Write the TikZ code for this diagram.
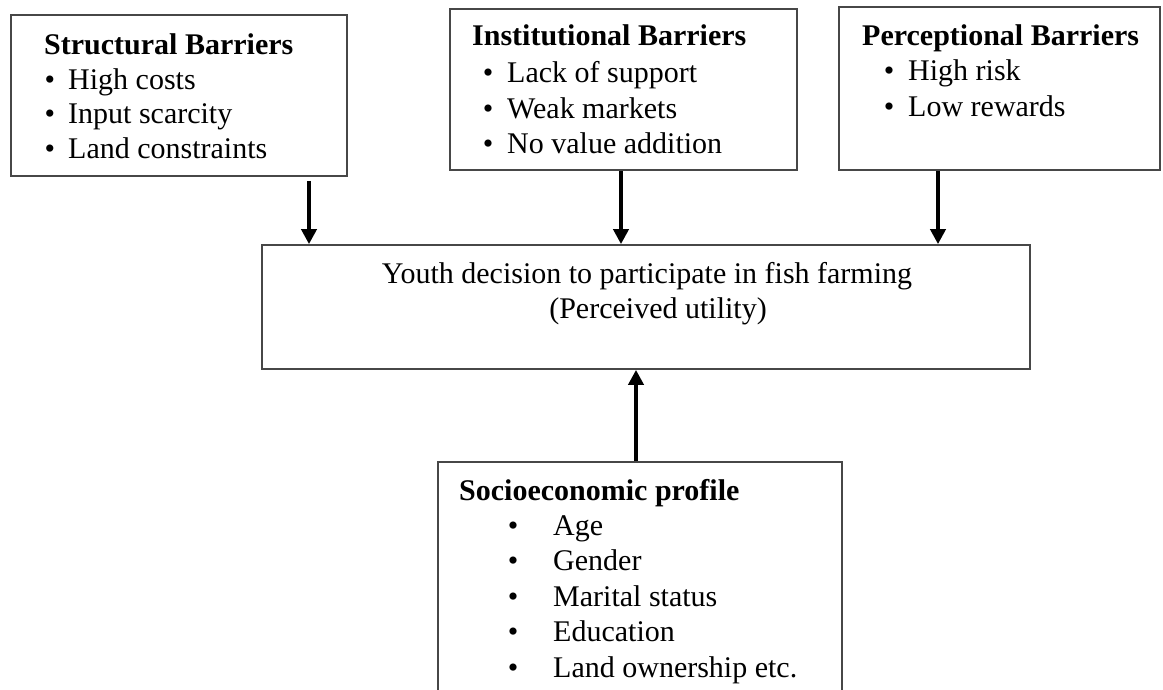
\documentclass[tikz,border=0pt]{standalone}
\usepackage{fontspec}
\setmainfont{Liberation Serif}
\usetikzlibrary{arrows.meta}
\begin{document}
\begin{tikzpicture}[x=1pt,y=-1pt,
  box/.style={draw=black!72,line width=1.7pt,rectangle,inner sep=0pt},
  txt/.style={inner sep=0pt,anchor=base west,font=\fontsize{30}{35}\selectfont},
  head/.style={txt,font=\fontsize{30}{35}\selectfont\bfseries},
  bul/.style={inner sep=0pt,anchor=base,font=\fontsize{30}{35}\selectfont},
  mid/.style={inner sep=0pt,anchor=base,font=\fontsize{30}{35}\selectfont},
  arr/.style={line width=4.2pt,-{Triangle[width=15pt,length=15pt]}}]
\useasboundingbox (0,0) rectangle (1163,689);
\clip (0,0) rectangle (1163,689);
\fill[white] (0,0) rectangle (1163,689);
% boxes
\node[box,minimum width=336pt,minimum height=161pt] (sb) at (179,95.5) {};
\node[box,minimum width=347pt,minimum height=161pt] (ib) at (623.5,89.5) {};
\node[box,minimum width=321pt,minimum height=163pt] (pb) at (999.5,88.5) {};
\node[box,minimum width=768pt,minimum height=124pt] (yd) at (646,307) {};
\node[box,minimum width=404pt,minimum height=238pt] (se) at (640,581) {};
% structural
\node[head] (sbh) at (44,54) {Structural Barriers};
\node[bul] (sb1b) at (50,89) {•};
\node[txt] (sb1) at (68,89) {High costs};
\node[bul] (sb2b) at (50,123) {•};
\node[txt] (sb2) at (68,123) {Input scarcity};
\node[bul] (sb3b) at (50,158) {•};
\node[txt] (sb3) at (68,158) {Land constraints};
% institutional
\node[head] (ibh) at (472,45) {Institutional Barriers};
\node[bul] (ib1b) at (488,82) {•};
\node[txt] (ib1) at (507,82) {Lack of support};
\node[bul] (ib2b) at (488,118) {•};
\node[txt] (ib2) at (507,118) {Weak markets};
\node[bul] (ib3b) at (488,153) {•};
\node[txt] (ib3) at (507,153) {No value addition};
% perceptional
\node[head] (pbh) at (862,45) {Perceptional Barriers};
\node[bul] (pb1b) at (889,80) {•};
\node[txt] (pb1) at (908,80) {High risk};
\node[bul] (pb2b) at (889,116) {•};
\node[txt] (pb2) at (908,116) {Low rewards};
% central
\node[mid] (yd1) at (647,283) {Youth decision to participate in fish farming};
\node[mid] (yd2) at (658,318) {(Perceived utility)};
% socioeconomic
\node[head] (seh) at (459,500) {Socioeconomic profile};
\node[bul] (se1b) at (513,535) {•};
\node[txt] (se1) at (553,535) {Age};
\node[bul] (se2b) at (513,570) {•};
\node[txt] (se2) at (553,570) {Gender};
\node[bul] (se3b) at (513,606) {•};
\node[txt] (se3) at (553,606) {Marital status};
\node[bul] (se4b) at (513,641) {•};
\node[txt] (se4) at (553,641) {Education};
\node[bul] (se5b) at (513,677) {•};
\node[txt] (se5) at (553,677) {Land ownership etc.};
% arrows
\coordinate (x1) at (309,0);
\coordinate (x2) at (621,0);
\coordinate (x3) at (938,0);
\coordinate (x4) at (636,0);
\draw[arr,shorten <=4pt] (sb.south -| x1) -- (yd.north -| x1);
\draw[arr] (ib.south -| x2) -- (yd.north -| x2);
\draw[arr] (pb.south -| x3) -- (yd.north -| x3);
\draw[arr] (se.north -| x4) -- (yd.south -| x4);
\end{tikzpicture}
\end{document}
